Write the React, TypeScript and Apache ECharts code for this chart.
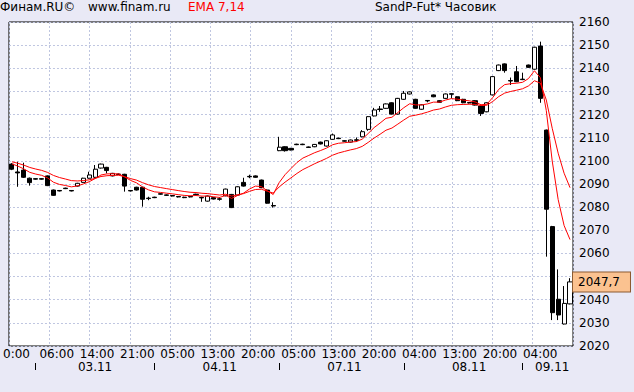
import React, { useEffect, useRef } from 'react';
import * as echarts from 'echarts';

// ---- Data (hourly SandP-Fut candles) ----
const opens = [
  2098.6, 2095.2, 2096.0, 2092.5, 2092.3, 2092.3, 2093.5, 2087.4, 2087.2, 2088.2,
  2087.2, 2089.1, 2090.7, 2092.5, 2092.9, 2096.9, 2097.2, 2093.5, 2094.3, 2094.2,
  2087.2, 2088.6, 2088.6, 2083.9, 2084.3, 2085.8, 2085.3, 2085.0, 2084.6, 2084.3,
  2084.6, 2085.6, 2084.2, 2082.6, 2084.1, 2083.6, 2084.9, 2085.5, 2085.2, 2090.7,
  2093.3, 2093.5, 2091.7, 2087.4, 2080.7, 2104.4, 2106.1, 2105.4, 2107.2, 2107.2,
  2106.0, 2106.1, 2108.1, 2106.4, 2109.3, 2109.8, 2108.7, 2108.1, 2109.1, 2110.4,
  2113.6, 2119.4, 2122.4, 2122.7, 2125.1, 2120.2, 2126.6, 2128.9, 2126.6, 2122.3,
  2126.1, 2128.5, 2126.0, 2127.0, 2129.0, 2127.7, 2126.6, 2125.2, 2126.0, 2123.7,
  2121.2, 2128.5, 2139.0, 2141.9, 2134.7, 2138.5, 2135.3, 2141.4, 2139.6, 2149.6,
  2113.3, 2071.6, 2040.2, 2029.5, 2038.2,
];
const closes = [
  2096.4, 2094.8, 2092.9, 2090.6, 2092.1, 2092.1, 2089.3, 2085.1, 2087.0, 2088.0,
  2087.0, 2090.3, 2092.5, 2093.9, 2096.4, 2098.6, 2095.8, 2094.6, 2094.1, 2089.1,
  2087.0, 2087.4, 2083.4, 2083.7, 2084.1, 2085.6, 2085.1, 2084.8, 2084.4, 2084.1,
  2084.4, 2085.4, 2084.0, 2084.8, 2083.5, 2083.4, 2087.8, 2079.8, 2088.8, 2089.1,
  2093.1, 2092.9, 2088.4, 2081.7, 2080.5, 2105.9, 2104.4, 2104.7, 2107.0, 2107.0,
  2105.8, 2107.1, 2107.3, 2108.7, 2111.2, 2109.6, 2108.5, 2109.0, 2108.9, 2112.6,
  2119.1, 2122.0, 2122.2, 2124.6, 2120.2, 2127.0, 2129.2, 2129.8, 2122.7, 2124.2,
  2125.9, 2127.7, 2125.3, 2128.9, 2128.8, 2126.0, 2125.1, 2125.0, 2124.1, 2120.5,
  2125.1, 2136.4, 2141.4, 2139.0, 2134.5, 2134.2, 2135.1, 2140.4, 2149.1, 2127.0,
  2079.1, 2034.4, 2033.4, 2038.4, 2047.7,
];
const lows = [
  2096.0, 2088.8, 2092.6, 2089.3, 2091.9, 2091.9, 2089.1, 2084.9, 2086.8, 2087.8,
  2086.8, 2088.9, 2090.5, 2092.3, 2092.7, 2096.7, 2094.6, 2093.3, 2093.9, 2086.7,
  2086.8, 2087.2, 2080.2, 2083.0, 2083.9, 2085.4, 2084.9, 2084.6, 2084.2, 2083.9,
  2084.2, 2085.2, 2082.3, 2082.4, 2083.3, 2082.8, 2084.7, 2079.6, 2085.0, 2088.9,
  2092.5, 2092.7, 2088.2, 2081.5, 2079.8, 2104.2, 2104.0, 2104.5, 2106.8, 2106.8,
  2105.6, 2105.9, 2107.1, 2106.2, 2109.1, 2109.4, 2108.3, 2107.9, 2108.3, 2110.2,
  2113.0, 2119.2, 2121.2, 2122.5, 2120.0, 2120.0, 2126.4, 2128.7, 2122.5, 2122.1,
  2125.3, 2127.5, 2125.1, 2126.8, 2127.0, 2125.8, 2124.9, 2124.8, 2123.9, 2119.4,
  2121.0, 2128.3, 2138.8, 2138.1, 2132.8, 2134.0, 2134.9, 2140.2, 2139.4, 2125.1,
  2058.6, 2031.2, 2031.2, 2029.3, 2038.0,
];
const highs = [
  2099.0, 2099.6, 2099.2, 2092.8, 2092.5, 2092.5, 2093.7, 2087.6, 2087.4, 2088.4,
  2087.4, 2090.5, 2092.7, 2095.3, 2098.2, 2098.8, 2097.4, 2094.8, 2094.5, 2094.4,
  2087.4, 2088.8, 2088.8, 2084.5, 2084.5, 2086.0, 2085.5, 2085.2, 2084.8, 2084.5,
  2084.8, 2085.8, 2084.5, 2085.0, 2084.3, 2084.3, 2088.0, 2085.7, 2089.0, 2092.7,
  2094.0, 2093.7, 2091.9, 2087.6, 2082.1, 2110.4, 2106.3, 2105.6, 2107.4, 2107.4,
  2106.2, 2107.3, 2108.3, 2108.9, 2111.8, 2110.0, 2108.9, 2109.2, 2110.1, 2113.3,
  2119.3, 2122.9, 2123.7, 2124.8, 2125.3, 2127.2, 2130.2, 2130.0, 2126.8, 2124.4,
  2126.3, 2128.7, 2126.2, 2129.1, 2129.2, 2127.9, 2126.8, 2125.4, 2126.2, 2123.9,
  2125.3, 2136.6, 2141.6, 2142.1, 2136.0, 2141.0, 2138.1, 2141.6, 2149.3, 2151.5,
  2113.5, 2071.9, 2053.1, 2045.9, 2049.3,
];

// EMA values at the first bar
const ema7Start = 2098.7;
const ema14Start = 2099.6;

// Axis texts
const timeLabels = ['0:00', '06:00', '14:00', '21:00', '05:00', '13:00', '20:00', '05:00', '13:00', '20:00', '04:00', '13:00', '20:00', '04:00'];
const dayLabels = ['03.11', '04.11', '07.11', '08.11', '09.11'];
const dayLabelBars = [14, 35, 56, 77, 91];
const dayStartBars = [4, 24, 45, 66, 86];

const titleLeft = 'Финам.RU©';
const titleSite = 'www.finam.ru';
const titleInd = 'EMA 7,14';
const titleRight = 'SandP-Fut* Часовик';

const FONT = 'DejaVu Sans';
const GRID_COLOR = '#bfc6e0';

function emaOf(values: number[], period: number, start: number): number[] {
  const k = 2 / (period + 1);
  const out: number[] = [];
  let prev = start;
  values.forEach((v, i) => {
    prev = i === 0 ? start : prev + k * (v - prev);
    out.push(Math.round(prev * 100) / 100);
  });
  return out;
}

export default function App() {
  const ref = useRef<HTMLDivElement>(null);

  useEffect(() => {
    if (!ref.current) return;
    const chart = echarts.init(ref.current, undefined, { renderer: 'svg' });
    const bars = opens.map((_, i) => String(i));
    const candles = opens.map((o, i) => [o, closes[i], lows[i], highs[i]]);
    const ema7 = emaOf(closes, 7, ema7Start);
    const ema14 = emaOf(closes, 14, ema14Start);
    const last = closes[closes.length - 1];

    const textFont = `12px "${FONT}"`;

    chart.setOption({
      animation: false,
      backgroundColor: 'transparent',
      textStyle: { fontFamily: FONT },
      grid: {
        left: 5, top: 22, width: 568, height: 324,
        show: true, backgroundColor: '#ffffff', borderColor: '#000000', borderWidth: 1,
      },
      graphic: [
        { type: 'text', x: 0, y: 7, style: { text: titleLeft, font: textFont, fill: '#000', verticalAlign: 'middle' } },
        { type: 'text', x: 88, y: 7, style: { text: titleSite, font: textFont, fill: '#000', verticalAlign: 'middle' } },
        { type: 'text', x: 188, y: 7, style: { text: titleInd, font: textFont, fill: '#ff0000', verticalAlign: 'middle' } },
        { type: 'text', x: 375, y: 7, style: { text: titleRight, font: textFont, fill: '#000', verticalAlign: 'middle' } },
      ],
      xAxis: [
        {
          type: 'category', data: bars, boundaryGap: true, position: 'bottom', offset: 17,
          axisLine: { show: false },
          axisTick: {
            show: true, alignWithLabel: true, length: 7,
            interval: (i: number) => dayStartBars.includes(i),
            lineStyle: { color: '#000', width: 1 },
          },
          axisLabel: {
            show: true,
            interval: (i: number) => dayLabelBars.includes(i),
            formatter: (_v: string, i: number) => {
              const k = dayLabelBars.indexOf(i);
              return k >= 0 ? dayLabels[k] : '';
            },
            color: '#000', fontFamily: FONT, fontSize: 12, margin: 3.5, verticalAlign: 'middle',
          },
          splitLine: { show: false },
        },
        {
          type: 'value', min: 0, max: 14, interval: 1, position: 'bottom',
          axisLine: { show: false }, axisTick: { show: false },
          axisLabel: {
            formatter: (v: number) => timeLabels[v] ?? '',
            showMaxLabel: false, showMinLabel: true,
            margin: 8, verticalAlign: 'middle', padding: [0, 0, 0, 15],
            color: '#000', fontFamily: FONT, fontSize: 12,
          },
          splitLine: { show: true, lineStyle: { color: GRID_COLOR, width: 1, type: [2, 2] } },
        },
      ],
      yAxis: {
        type: 'value', position: 'right', min: 2020, max: 2160, interval: 10,
        axisLine: { show: false }, axisTick: { show: false },
        axisLabel: {
          align: 'left', margin: 6, color: '#000', fontFamily: FONT, fontSize: 12,
          formatter: (v: number) => String(v),
        },
        splitLine: { show: true, lineStyle: { color: GRID_COLOR, width: 1, type: [2, 2] } },
      },
      series: [
        {
          type: 'candlestick', xAxisIndex: 0, yAxisIndex: 0, data: candles, barWidth: 4.6,
          itemStyle: { color: '#ffffff', color0: '#000000', borderColor: '#000000', borderColor0: '#000000', borderWidth: 1 },
          z: 2,
          markLine: {
            silent: true, symbol: ['none', 'none'], animation: false, z: 10,
            data: [{ yAxis: last }],
            lineStyle: { color: 'rgba(0,0,0,0)', width: 0, type: 'solid' },
            label: {
              show: true, position: 'end', distance: 0,
              formatter: () => last.toFixed(1).replace('.', ','),
              backgroundColor: '#fbc290', borderColor: '#8c5a30', borderWidth: 1,
              padding: [4, 10, 3, 5], color: '#000', fontFamily: FONT, fontSize: 12, opacity: 1,
            },
          },
        },
        {
          type: 'line', xAxisIndex: 0, yAxisIndex: 0, data: ema7, symbol: 'none', z: 3,
          lineStyle: { color: '#ff0000', width: 1 },
        },
        {
          type: 'line', xAxisIndex: 0, yAxisIndex: 0, data: ema14, symbol: 'none', z: 3,
          lineStyle: { color: '#ff0000', width: 1 },
        },
      ],
    });
    return () => chart.dispose();
  }, []);

  return (
    <div style={{ position: 'fixed', left: 0, top: 0, width: 634, height: 392, background: '#e9e9f6' }}>
      <div ref={ref} style={{ width: 634, height: 392 }} />
    </div>
  );
}
